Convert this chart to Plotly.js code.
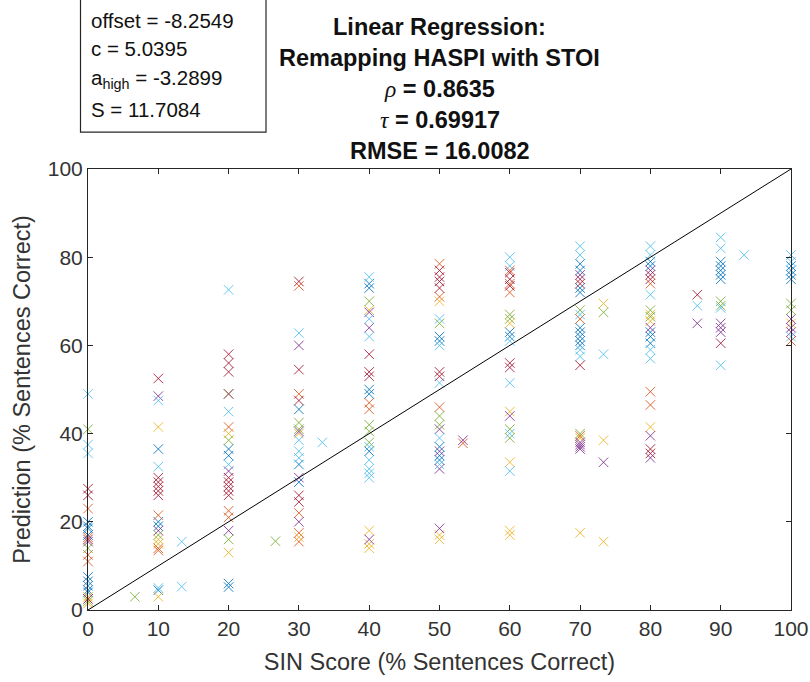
<!DOCTYPE html>
<html>
<head>
<meta charset="utf-8">
<script src="https://cdn.plot.ly/plotly-3.0.1.min.js"></script>
<style>
  html, body { margin: 0; padding: 0; background: #ffffff; }
  #chart { width: 810px; height: 682px; }
</style>
</head>
<body>
<div id="chart"></div>
<script>
// SIN score columns (percent sentences correct) and the model predictions at each,
// grouped by the colour each condition is plotted with.
const blueX = [0,0,0,0,0,0,0,0,0, 10,10,10,10, 20,20,20,20,20, 30,30,30, 40,40,40,40,40,
  50,50,50,50,50, 60,60, 70,70,70,70,70,70,70,70,70, 80,80,80,80,80, 90,90,90,90,90, 100,100,100,100];
const blueY = [20,19,18.5,17,7.5,6.5,5.5,4.5,4, 36.5,20,19,4.5, 49,36.5,35,6,5.2, 45.5,33,29, 74,73,50,49,36,
  62,61,37,35,34, 63,62, 78.5,77,73,72,64,63,62,61,60, 79,78,63,62,60.5, 79,78,77,76,75, 78,77,76,75];

const orangeX = [0,0,0,0, 10,10,10, 20,20,20,20, 30,30,30,30,30, 40,40, 50,50,50, 53.333,
  60,60,60, 70,70, 80,80,80, 100];
const orangeY = [23,16.5,12.5,11, 21.5,14,13.5, 49,41.5,22.5,21, 73.5,49,22,17.5,15.5, 47,45.5, 78.5,71,46, 37.8,
  77,74,72, 66,39.5, 74,49.5,46.5, 61];

const yellowX = [0,0, 10,10,10,10, 20,20, 30,30, 40,40,40,40, 50,50,50, 60,60,60,60,60,
  70,70, 73.333,73.333,73.333, 80,80,80, 100];
const yellowY = [1.5,3, 41.5,16,15,3, 40,13, 40,16.5, 68,18,15,14, 70,17,16, 65,45,33.5,18,17,
  39,17.5, 69.5,38.5,15.5, 67,65.5,41.5, 65];

const purpleX = [0, 10,10, 20,20, 30,30,30,30, 40,40,40, 50,50,50,50, 53.333, 60,
  70,70,70,70,70, 73.333, 80,80,80,80, 86.667, 90,90,90, 100,100,100];
const purpleY = [15.5, 48.5,18, 31.5,18, 60,40.5,30,20, 67.5,64,16, 41,36,32,18.5, 38.5, 44,
  76,38,37.5,37,36.5, 33.5, 77,64,39.5,34.5, 65, 65,64,63, 66,64,63];

const greenX = [0,0,0, 6.667, 10, 20,20, 26.667, 30,30, 40,40,40,40, 50,50,50, 60,60,60,60,
  70,70, 73.333, 80,80, 90,90, 100,100];
const greenY = [41,14,2, 3, 17, 38.5,16, 15.6, 42.5,41, 70,42,40.5,38, 65,44,42, 67,66,41,39,
  68,40, 67.5, 68,66.5, 70,69, 69.5,68];

const cyanX = [0,0,0, 10,10,10, 13.333,13.333, 20,20,20, 30,30,30,30, 33.333,
  40,40,40,40,40,40,40,40, 50,50,50,50,50, 60,60,60,60,60,60,
  70,70,70,70,70, 73.333, 80,80,80,80,80, 86.667, 90,90,90,90, 93.333, 100,100,100];
const cyanY = [49,37.5,35.5, 47.5,32.5,5, 15.5,5.3, 72.6,45,33, 62.8,38.5,36,34.5, 38,
  75.5,66,62,37,34,32,31,30, 66,60,51.5,39,33, 80,78,61,51.5,40,31.5,
  82.5,80.5,67,59,57.5, 58, 82.5,80.5,71.5,59,57, 69, 84.5,82,68.5,55.5, 80.5, 80.5,79,62];

const redX = [0,0,0,0, 10,10,10,10,10,10, 20,20,20,20,20,20,20,20, 30,30,30,30,30,
  40,40,40, 50,50,50,50,50,50, 60,60,60,60,60, 70,70,70, 80,80,80,80, 86.667, 90];
const redY = [27.5,26,16,2.5, 52.5,30,29,28,27,26, 58,56,54,30,29,28,27,26, 74.5,54.5,47.5,26,24.5,
  58,54,53, 77,75.5,74.5,73,54,53, 76.5,75,73.5,56,55, 75,74,55.5, 76,75,36.5,35.5, 71.5, 60.5];

// Reference line y = x
const refX = [0, 100];
const refY = [0, 100];

const xTicks = [0, 10, 20, 30, 40, 50, 60, 70, 80, 90, 100];
const yTicks = [0, 20, 40, 60, 80, 100];

const series = [
  {x: blueX, y: blueY, color: '#0072BD'},
  {x: orangeX, y: orangeY, color: '#D95319'},
  {x: yellowX, y: yellowY, color: '#EDB120'},
  {x: purpleX, y: purpleY, color: '#7E2F8E'},
  {x: greenX, y: greenY, color: '#77AC30'},
  {x: cyanX, y: cyanY, color: '#4DBEEE'},
  {x: redX, y: redY, color: '#A2142F'}
];

const traces = series.map(s => ({
  type: 'scatter',
  mode: 'markers',
  x: s.x,
  y: s.y,
  cliponaxis: false,
  hoverinfo: 'x+y',
  marker: {
    symbol: 'x-thin-open',
    size: 9.5,
    color: s.color,
    opacity: 0.85,
    line: {color: s.color, width: 1}
  }
}));

traces.push({
  type: 'scatter',
  mode: 'lines',
  x: refX,
  y: refY,
  line: {color: '#000000', width: 1},
  hoverinfo: 'skip'
});

const axisFont = {family: 'Liberation Sans, Arial, sans-serif', size: 21, color: '#333333'};
const labelFont = {family: 'Liberation Sans, Arial, sans-serif', size: 23.5, color: '#333333'};
const titleFont = {family: 'Liberation Sans, Arial, sans-serif', size: 23.5, color: '#111111'};
const boxFont = {family: 'Liberation Sans, Arial, sans-serif', size: 20.5, color: '#111111'};

const py = p => (610.5 - p) / 441.5;   // pixel row -> paper y
const px = p => (p - 88) / 703;        // pixel column -> paper x

const titleLines = [
  '<b>Linear Regression:</b>',
  '<b>Remapping HASPI with STOI</b>',
  '<span style="font-family:Liberation Serif,Times New Roman,serif"><i>ρ</i></span><b> = 0.8635</b>',
  '<span style="font-family:Liberation Serif,Times New Roman,serif"><i>τ</i></span><b> = 0.69917</b>',
  '<b>RMSE = 16.0082</b>'
];
const titleRows = [27, 58, 89, 120, 151];

const boxLines = [
  'offset = -8.2549',
  'c = 5.0395',
  'a<sub>high</sub> = -3.2899',
  'S = 11.7084'
];
const boxRows = [20, 48, 79, 109];

const annotations = [];
titleLines.forEach((t, i) => annotations.push({
  xref: 'paper', yref: 'paper', x: 0.5, y: py(titleRows[i]),
  xanchor: 'center', yanchor: 'middle', showarrow: false,
  text: t, font: titleFont
}));
boxLines.forEach((t, i) => annotations.push({
  xref: 'paper', yref: 'paper', x: px(89), y: py(boxRows[i]),
  xanchor: 'left', yanchor: 'middle', showarrow: false,
  text: t, font: boxFont
}));

const layout = {
  width: 810,
  height: 682,
  margin: {l: 88, r: 19, t: 169, b: 71.5, pad: 0},
  paper_bgcolor: '#ffffff',
  plot_bgcolor: '#ffffff',
  showlegend: false,
  xaxis: {
    range: [0, 100],
    tickvals: xTicks,
    ticktext: xTicks.map(String),
    ticks: 'inside',
    ticklen: 5,
    tickcolor: '#262626',
    showline: true,
    mirror: 'ticks',
    linecolor: '#262626',
    linewidth: 1,
    showgrid: false,
    zeroline: false,
    tickfont: axisFont,
    title: {text: 'SIN Score (% Sentences Correct)', font: labelFont, standoff: 14}
  },
  yaxis: {
    range: [0, 100],
    tickvals: yTicks,
    ticktext: yTicks.map(String),
    ticks: 'inside',
    ticklen: 5,
    tickcolor: '#262626',
    showline: true,
    mirror: 'ticks',
    linecolor: '#262626',
    linewidth: 1,
    showgrid: false,
    zeroline: false,
    tickfont: axisFont,
    title: {text: 'Prediction (% Sentences Correct)', font: labelFont, standoff: 10}
  },
  shapes: [{
    type: 'rect', xref: 'paper', yref: 'paper',
    x0: px(80.5), x1: px(266), y0: py(132), y1: py(-5),
    line: {color: '#262626', width: 1.2},
    fillcolor: 'rgba(255,255,255,0)',
    layer: 'above'
  }],
  annotations: annotations
};

Plotly.newPlot('chart', traces, layout, {displayModeBar: false, staticPlot: true});
</script>
</body>
</html>
